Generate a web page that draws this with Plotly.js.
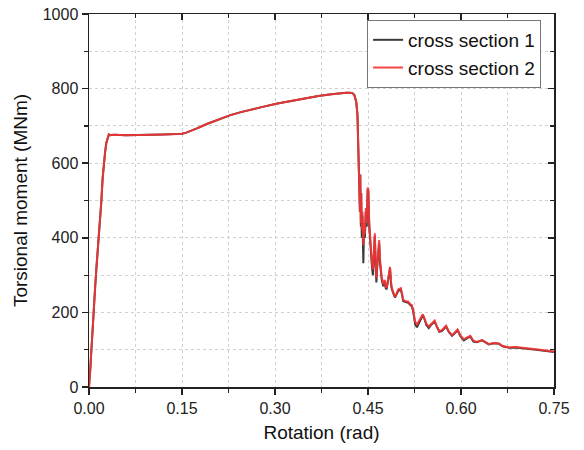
<!DOCTYPE html>
<html>
<head>
<meta charset="utf-8">
<script src="https://cdn.plot.ly/plotly-3.0.1.min.js"></script>
<style>html,body{margin:0;padding:0;background:#fff;}#chart{width:584px;height:450px;}</style>
</head>
<body>
<div id="chart"></div>
<script>
// Rotation (rad)
const rotation = [
  0, 0.001, 0.002, 0.003, 0.0045, 0.0065, 0.008, 0.010, 0.012, 0.014, 0.016, 0.018, 0.020, 0.022, 0.024, 0.026, 0.028, 0.030, 0.032, 0.034,
  0.040, 0.060, 0.080, 0.100, 0.120, 0.140, 0.150, 0.157, 0.165, 0.175, 0.190, 0.207, 0.228, 0.245, 0.261, 0.280, 0.304, 0.325, 0.347, 0.370, 0.391, 0.405, 0.415, 0.420,
  0.425, 0.428, 0.431, 0.433, 0.4345, 0.4355, 0.437, 0.4375, 0.4385, 0.439, 0.440, 0.441, 0.4425, 0.4435, 0.445, 0.4465, 0.448, 0.4495, 0.4505,
  0.452, 0.4535, 0.455, 0.4565, 0.458, 0.4595, 0.461, 0.4625, 0.4635, 0.465, 0.4665, 0.468, 0.4695, 0.471, 0.472, 0.4745, 0.476, 0.477, 0.4785,
  0.480, 0.482, 0.4845, 0.4855, 0.487, 0.488, 0.4905, 0.4935, 0.496, 0.499, 0.503, 0.505, 0.507, 0.511, 0.515, 0.518, 0.5206, 0.523, 0.526,
  0.529, 0.532, 0.535, 0.5385, 0.541, 0.544, 0.548, 0.552, 0.5575, 0.561, 0.565, 0.569, 0.573, 0.576, 0.580, 0.5855, 0.590, 0.5945, 0.599,
  0.6045, 0.610, 0.615, 0.620, 0.6255, 0.634, 0.640, 0.645, 0.652, 0.661, 0.667, 0.6775, 0.688, 0.699, 0.710, 0.721, 0.732, 0.7425, 0.750
];
// Torsional moment (MNm), cross section 1
const section1 = [
  0, 15, 45, 75, 120, 198, 235, 270, 320, 360, 399, 450, 500, 560, 600, 630, 655, 670, 677, 675,
  676, 675, 675, 676, 677, 678, 679, 682, 687, 694, 705, 716, 729, 737, 744, 751, 760, 767, 774, 780, 785, 788, 789, 789,
  788, 783, 765, 730, 640, 585, 470, 570, 430, 520, 400, 460, 332, 420, 400, 470, 430, 530, 525,
  430, 390, 340, 320, 300, 370, 405, 320, 280, 325, 355, 385, 330, 295, 290, 270, 280, 283, 265,
  262, 282, 315, 318, 280, 265, 252, 240, 248, 258, 262, 245, 230, 228, 226, 220, 217, 202, 168,
  160, 172, 183, 193, 183, 167, 158, 167, 175, 160, 148, 150, 157, 162, 148, 137, 144, 152, 136,
  125, 131, 135, 122, 120, 125, 118, 114, 117, 116, 109, 105, 106, 105, 102, 100, 98, 96, 94
];
// Torsional moment (MNm), cross section 2
const section2 = [
  0, 15, 45, 75, 120, 198, 235, 270, 320, 360, 399, 450, 500, 560, 600, 630, 655, 670, 677, 675,
  676, 675, 675, 676, 677, 678, 679, 682, 687, 694, 705, 716, 729, 737, 744, 751, 760, 767, 774, 780, 785, 788, 789, 789,
  788, 783, 765, 730, 640, 585, 470, 570, 440, 520, 420, 470, 380, 440, 410, 480, 440, 535, 530,
  440, 400, 350, 330, 315, 380, 412, 330, 292, 330, 360, 394, 340, 300, 296, 275, 285, 287, 270,
  265, 285, 320, 322, 285, 269, 255, 242, 250, 262, 265, 248, 233, 230, 229, 222, 220, 205, 175,
  168, 175, 185, 195, 185, 170, 162, 170, 178, 162, 150, 152, 160, 164, 150, 139, 146, 154, 138,
  128, 133, 137, 124, 121, 126, 119, 115, 118, 117, 110, 106, 107, 106, 103, 101, 99, 97, 95
];
const seriesNames = ["cross section 1", "cross section 2"];

const font = "Liberation Sans, Arial, sans-serif";
const gridCol = "#d0d0d0";
const lineCol = "#222";

const traces = [
  {x: rotation, y: section1, type: "scatter", mode: "lines", name: seriesNames[0],
   line: {color: "#3a3a3a", width: 2}},
  {x: rotation, y: section2, type: "scatter", mode: "lines", name: seriesNames[1],
   line: {color: "rgba(244,52,52,0.92)", width: 2}},
  {x: [0], y: [0], xaxis: "x2", yaxis: "y2", type: "scatter", mode: "markers",
   marker: {opacity: 0}, showlegend: false, hoverinfo: "skip"}
];

const layout = {
  width: 584, height: 450,
  margin: {l: 89, r: 30, t: 14, b: 63},
  paper_bgcolor: "#fff", plot_bgcolor: "#fff",
  font: {family: font, color: "#222", size: 16},
  showlegend: true,
  legend: {x: 0.598, xanchor: "left", y: 0.984, yanchor: "top",
           bgcolor: "#fff", bordercolor: "#777", borderwidth: 1,
           font: {family: font, size: 19, color: "#111"}, tracegroupgap: 0},
  xaxis: {
    range: [0, 0.75], tick0: 0, dtick: 0.15, tickformat: ".2f",
    ticks: "outside", ticklen: 6, tickwidth: 1.5, tickcolor: lineCol,
    showline: true, linecolor: lineCol, linewidth: 1.5, zeroline: false,
    showgrid: true, gridcolor: gridCol, griddash: "dot", gridwidth: 1,
    minor: {dtick: 0.075, ticks: "outside", ticklen: 4, tickwidth: 1.2, tickcolor: lineCol,
            showgrid: true, gridcolor: gridCol, griddash: "dot", gridwidth: 1},
    tickfont: {size: 16, family: font, color: "#222"},
    title: {text: "Rotation (rad)", font: {size: 19, family: font, color: "#111"}, standoff: 10}
  },
  yaxis: {
    range: [0, 1000], tick0: 0, dtick: 200,
    ticks: "outside", ticklen: 6, tickwidth: 1.5, tickcolor: lineCol,
    showline: true, linecolor: lineCol, linewidth: 1.5, zeroline: false,
    showgrid: true, gridcolor: gridCol, griddash: "dot", gridwidth: 1,
    minor: {dtick: 100, ticks: "outside", ticklen: 4, tickwidth: 1.2, tickcolor: lineCol,
            showgrid: true, gridcolor: gridCol, griddash: "dot", gridwidth: 1},
    tickfont: {size: 16, family: font, color: "#222"},
    title: {text: "Torsional moment (MNm)", font: {size: 19, family: font, color: "#111"}, standoff: 10}
  },
  xaxis2: {
    overlaying: "x", side: "top", anchor: "y", range: [0, 0.75], tick0: 0, dtick: 0.15,
    ticks: "inside", ticklen: 6, tickwidth: 1.5, tickcolor: lineCol,
    showline: true, linecolor: lineCol, linewidth: 1.5, showticklabels: false,
    showgrid: false, zeroline: false,
    minor: {dtick: 0.075, ticks: "inside", ticklen: 4, tickwidth: 1.2, tickcolor: lineCol, showgrid: false}
  },
  yaxis2: {
    overlaying: "y", side: "right", anchor: "x", range: [0, 1000], tick0: 0, dtick: 200,
    ticks: "inside", ticklen: 6, tickwidth: 1.5, tickcolor: lineCol,
    showline: true, linecolor: lineCol, linewidth: 1.5, showticklabels: false,
    showgrid: false, zeroline: false,
    minor: {dtick: 100, ticks: "inside", ticklen: 4, tickwidth: 1.2, tickcolor: lineCol, showgrid: false}
  }
};

Plotly.newPlot("chart", traces, layout, {staticPlot: true, displayModeBar: false});
</script>
</body>
</html>
